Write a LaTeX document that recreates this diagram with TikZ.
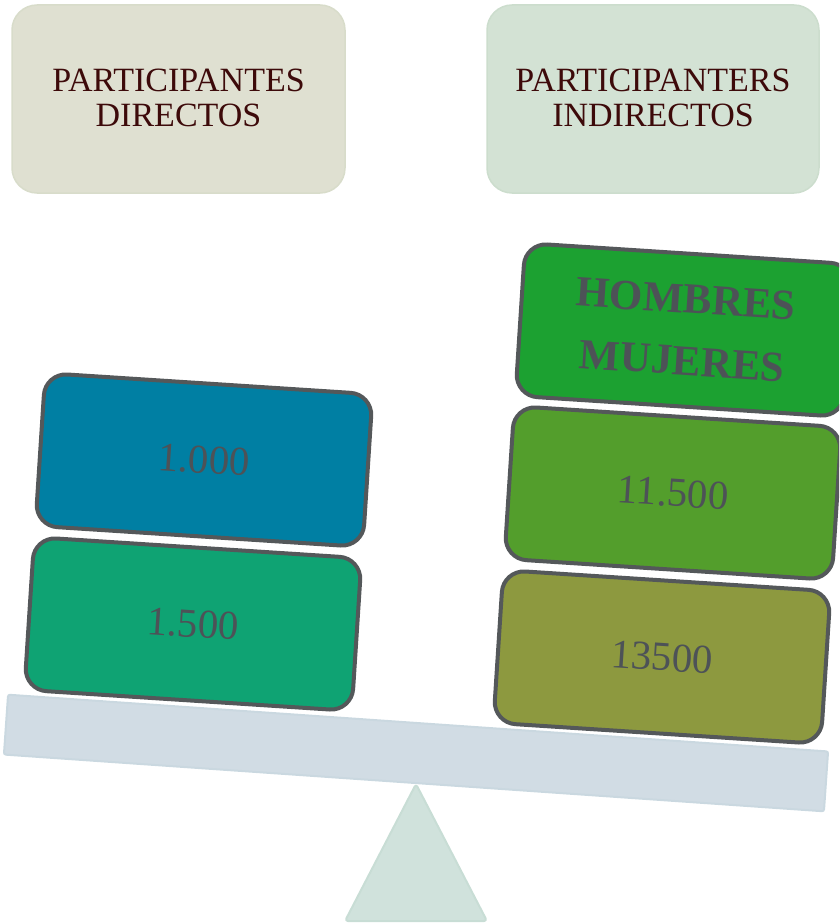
\documentclass[tikz,border=0pt]{standalone}
\usepackage{fontspec}
\setmainfont{Liberation Serif}
\definecolor{hdrleft}{HTML}{DFE0D1}
\definecolor{hdrleftb}{HTML}{D8DCCA}
\definecolor{hdrright}{HTML}{D3E2D4}
\definecolor{hdrrightb}{HTML}{CCDDCD}
\definecolor{hdrtext}{HTML}{3D0A0A}
\definecolor{boxline}{HTML}{54585A}
\definecolor{boxtext}{HTML}{4D5257}
\definecolor{cblue}{HTML}{007FA3}
\definecolor{cteal}{HTML}{0FA373}
\definecolor{cgreen}{HTML}{1CA131}
\definecolor{cleaf}{HTML}{539E2C}
\definecolor{colive}{HTML}{8D993F}
\definecolor{barfill}{HTML}{D1DCE4}
\definecolor{barline}{HTML}{CAD8E0}
\definecolor{trifill}{HTML}{D0E2DC}
\definecolor{triline}{HTML}{C8DDD5}
\tikzset{
  header/.style={draw=#1, line width=1.5pt, rounded corners=25pt},
  hdrlabel/.style={align=center, text=hdrtext, font=\fontsize{34}{35}\selectfont},
  weight/.style={draw=boxline, fill=#1, line width=4pt, rounded corners=22pt,
    minimum width=328pt, minimum height=153pt, rotate=-3.7, inner sep=0pt,
    text=boxtext, font=\fontsize{41}{44}\selectfont, align=center},
  beam/.style={draw=barline, fill=barfill, line width=2pt, rounded corners=2pt,
    minimum width=822pt, minimum height=60pt, rotate=-3.96, inner sep=0pt},
  fulcrum/.style={draw=triline, fill=trifill, line width=2pt, rounded corners=3pt, line join=round}
}
\begin{document}
\begin{tikzpicture}[x=1pt,y=-1pt]
\useasboundingbox (0,0) rectangle (839,923);
\clip (0,0) rectangle (839,923);
% headers
\draw[header=hdrleftb, fill=hdrleft] (12,5) rectangle (345,193);
\node[hdrlabel] (hdrL) at (178.5,98) {PARTICIPANTES\\DIRECTOS};
\draw[header=hdrrightb, fill=hdrright] (487,5) rectangle (819,193);
\node[hdrlabel] (hdrR) at (653,98) {PARTICIPANTERS\\INDIRECTOS};
% fulcrum and beam
\draw[fulcrum] (416,784) -- (487,921) -- (345,921) -- cycle;
\node[beam] (bar) at (416,753) {};
% left weights
\node[weight=cblue] (w1000) at (204,460) {1.000};
\node[weight=cteal] (w1500) at (193,624) {1.500};
% right weights
\node[weight=cgreen, font=\bfseries\fontsize{43}{62}\selectfont] (whm) at (684,330) {HOMBRES\\MUJERES};
\node[weight=cleaf] (w11500) at (673,493) {11.500};
\node[weight=colive] (w13500) at (662,657) {13500};
\end{tikzpicture}
\end{document}
